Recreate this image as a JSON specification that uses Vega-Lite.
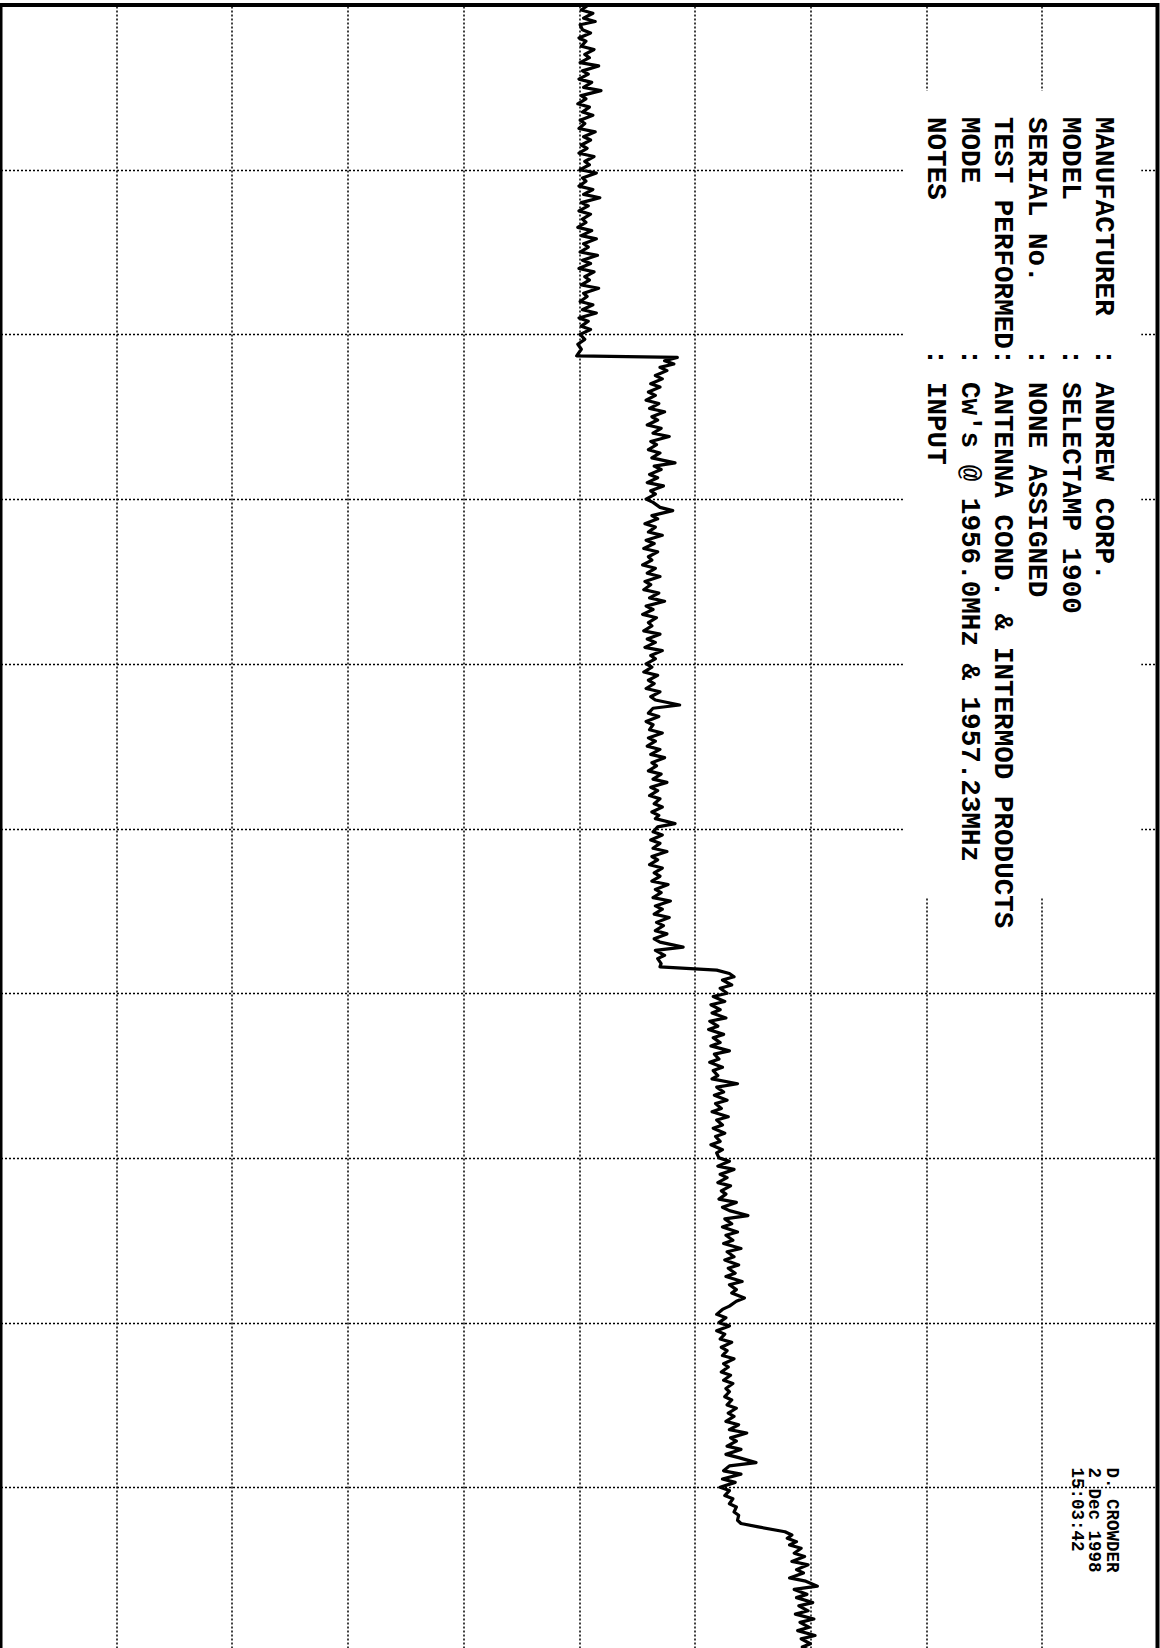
{
  "$schema": "https://vega.github.io/schema/vega-lite/v6.json",
  "width": 1157,
  "height": 1647,
  "autosize": {"type": "none"},
  "padding": {"left": 0.5, "top": 5, "right": 2.5, "bottom": 0},
  "background": "white",
  "config": {
    "view": {"stroke": "black", "strokeWidth": 4},
    "axis": {"grid": true, "gridColor": "black", "gridDash": [2, 2], "gridWidth": 1.5, "gridOpacity": 1, "labels": false, "ticks": false, "domain": false, "title": null}
  },
  "datasets": {
    "trace": [
      {"freq": 0.00, "level": 5.08}, {"freq": 0.03, "level": 5.02}, {"freq": 0.05, "level": 5.12}, {"freq": 0.08, "level": 5.04},
      {"freq": 0.10, "level": 5.14}, {"freq": 0.12, "level": 5.01}, {"freq": 0.15, "level": 5.03}, {"freq": 0.17, "level": 5.10},
      {"freq": 0.20, "level": 5.00}, {"freq": 0.22, "level": 5.06}, {"freq": 0.25, "level": 5.02}, {"freq": 0.27, "level": 5.13},
      {"freq": 0.30, "level": 5.05}, {"freq": 0.32, "level": 5.09}, {"freq": 0.35, "level": 5.01}, {"freq": 0.37, "level": 5.17},
      {"freq": 0.40, "level": 5.03}, {"freq": 0.42, "level": 5.08}, {"freq": 0.45, "level": 5.00}, {"freq": 0.47, "level": 5.11},
      {"freq": 0.50, "level": 5.04}, {"freq": 0.52, "level": 5.19}, {"freq": 0.55, "level": 5.02}, {"freq": 0.57, "level": 5.06},
      {"freq": 0.60, "level": 4.99}, {"freq": 0.62, "level": 5.09}, {"freq": 0.65, "level": 5.03}, {"freq": 0.67, "level": 5.12},
      {"freq": 0.70, "level": 5.01}, {"freq": 0.72, "level": 5.05}, {"freq": 0.75, "level": 5.00}, {"freq": 0.77, "level": 5.14},
      {"freq": 0.80, "level": 5.04}, {"freq": 0.82, "level": 5.10}, {"freq": 0.85, "level": 5.02}, {"freq": 0.87, "level": 5.07},
      {"freq": 0.90, "level": 5.00}, {"freq": 0.92, "level": 5.13}, {"freq": 0.95, "level": 5.05}, {"freq": 0.97, "level": 5.09},
      {"freq": 1.00, "level": 5.01}, {"freq": 1.02, "level": 5.15}, {"freq": 1.05, "level": 5.03}, {"freq": 1.07, "level": 5.06},
      {"freq": 1.10, "level": 5.00}, {"freq": 1.12, "level": 5.12}, {"freq": 1.15, "level": 5.04}, {"freq": 1.17, "level": 5.18},
      {"freq": 1.20, "level": 5.02}, {"freq": 1.22, "level": 5.08}, {"freq": 1.25, "level": 5.00}, {"freq": 1.27, "level": 5.10},
      {"freq": 1.30, "level": 5.03}, {"freq": 1.32, "level": 5.06}, {"freq": 1.35, "level": 4.99}, {"freq": 1.37, "level": 5.11},
      {"freq": 1.40, "level": 5.02}, {"freq": 1.42, "level": 5.15}, {"freq": 1.45, "level": 5.04}, {"freq": 1.47, "level": 5.08},
      {"freq": 1.50, "level": 5.01}, {"freq": 1.52, "level": 5.16}, {"freq": 1.55, "level": 5.03}, {"freq": 1.57, "level": 5.10},
      {"freq": 1.60, "level": 5.00}, {"freq": 1.62, "level": 5.13}, {"freq": 1.65, "level": 5.05}, {"freq": 1.67, "level": 5.09},
      {"freq": 1.70, "level": 5.02}, {"freq": 1.72, "level": 5.17}, {"freq": 1.75, "level": 5.04}, {"freq": 1.77, "level": 5.07},
      {"freq": 1.80, "level": 5.01}, {"freq": 1.82, "level": 5.12}, {"freq": 1.85, "level": 5.03}, {"freq": 1.87, "level": 5.15},
      {"freq": 1.90, "level": 5.00}, {"freq": 1.92, "level": 5.08}, {"freq": 1.95, "level": 5.02}, {"freq": 1.97, "level": 5.10},
      {"freq": 2.00, "level": 5.01}, {"freq": 2.03, "level": 5.05}, {"freq": 2.06, "level": 4.99}, {"freq": 2.09, "level": 5.02},
      {"freq": 2.12, "level": 4.99}, {"freq": 2.13, "level": 4.98},
      {"freq": 2.14, "level": 5.85}, {"freq": 2.16, "level": 5.74}, {"freq": 2.18, "level": 5.82}, {"freq": 2.20, "level": 5.70},
      {"freq": 2.22, "level": 5.76}, {"freq": 2.25, "level": 5.66}, {"freq": 2.27, "level": 5.72}, {"freq": 2.30, "level": 5.62},
      {"freq": 2.32, "level": 5.70}, {"freq": 2.35, "level": 5.60}, {"freq": 2.37, "level": 5.66}, {"freq": 2.40, "level": 5.58},
      {"freq": 2.42, "level": 5.69}, {"freq": 2.45, "level": 5.61}, {"freq": 2.47, "level": 5.74}, {"freq": 2.50, "level": 5.63},
      {"freq": 2.52, "level": 5.68}, {"freq": 2.55, "level": 5.59}, {"freq": 2.57, "level": 5.71}, {"freq": 2.60, "level": 5.64},
      {"freq": 2.62, "level": 5.78}, {"freq": 2.65, "level": 5.62}, {"freq": 2.67, "level": 5.67}, {"freq": 2.70, "level": 5.60},
      {"freq": 2.72, "level": 5.70}, {"freq": 2.75, "level": 5.63}, {"freq": 2.78, "level": 5.83}, {"freq": 2.80, "level": 5.65},
      {"freq": 2.82, "level": 5.71}, {"freq": 2.85, "level": 5.61}, {"freq": 2.87, "level": 5.68}, {"freq": 2.90, "level": 5.59},
      {"freq": 2.92, "level": 5.73}, {"freq": 2.95, "level": 5.62}, {"freq": 2.97, "level": 5.66}, {"freq": 3.00, "level": 5.58},
      {"freq": 3.02, "level": 5.64}, {"freq": 3.05, "level": 5.70}, {"freq": 3.07, "level": 5.81}, {"freq": 3.10, "level": 5.63},
      {"freq": 3.12, "level": 5.68}, {"freq": 3.15, "level": 5.57}, {"freq": 3.17, "level": 5.66}, {"freq": 3.20, "level": 5.60},
      {"freq": 3.22, "level": 5.72}, {"freq": 3.25, "level": 5.58}, {"freq": 3.27, "level": 5.65}, {"freq": 3.30, "level": 5.56},
      {"freq": 3.32, "level": 5.68}, {"freq": 3.35, "level": 5.60}, {"freq": 3.37, "level": 5.63}, {"freq": 3.40, "level": 5.55},
      {"freq": 3.42, "level": 5.66}, {"freq": 3.45, "level": 5.59}, {"freq": 3.47, "level": 5.70}, {"freq": 3.50, "level": 5.57},
      {"freq": 3.52, "level": 5.62}, {"freq": 3.55, "level": 5.56}, {"freq": 3.57, "level": 5.69}, {"freq": 3.60, "level": 5.61},
      {"freq": 3.62, "level": 5.74}, {"freq": 3.65, "level": 5.58}, {"freq": 3.67, "level": 5.64}, {"freq": 3.70, "level": 5.55},
      {"freq": 3.72, "level": 5.67}, {"freq": 3.75, "level": 5.60}, {"freq": 3.77, "level": 5.63}, {"freq": 3.80, "level": 5.56},
      {"freq": 3.82, "level": 5.70}, {"freq": 3.85, "level": 5.59}, {"freq": 3.87, "level": 5.66}, {"freq": 3.90, "level": 5.57},
      {"freq": 3.92, "level": 5.72}, {"freq": 3.95, "level": 5.62}, {"freq": 3.97, "level": 5.66}, {"freq": 4.00, "level": 5.58},
      {"freq": 4.02, "level": 5.63}, {"freq": 4.05, "level": 5.56}, {"freq": 4.07, "level": 5.68}, {"freq": 4.10, "level": 5.60},
      {"freq": 4.12, "level": 5.65}, {"freq": 4.15, "level": 5.58}, {"freq": 4.17, "level": 5.70}, {"freq": 4.20, "level": 5.62},
      {"freq": 4.22, "level": 5.66}, {"freq": 4.25, "level": 5.87}, {"freq": 4.27, "level": 5.64}, {"freq": 4.30, "level": 5.60},
      {"freq": 4.32, "level": 5.69}, {"freq": 4.35, "level": 5.58}, {"freq": 4.37, "level": 5.64}, {"freq": 4.40, "level": 5.61},
      {"freq": 4.42, "level": 5.72}, {"freq": 4.45, "level": 5.60}, {"freq": 4.47, "level": 5.66}, {"freq": 4.50, "level": 5.59},
      {"freq": 4.52, "level": 5.70}, {"freq": 4.55, "level": 5.62}, {"freq": 4.57, "level": 5.74}, {"freq": 4.60, "level": 5.63},
      {"freq": 4.62, "level": 5.67}, {"freq": 4.65, "level": 5.60}, {"freq": 4.67, "level": 5.71}, {"freq": 4.70, "level": 5.64},
      {"freq": 4.72, "level": 5.76}, {"freq": 4.75, "level": 5.62}, {"freq": 4.77, "level": 5.68}, {"freq": 4.80, "level": 5.61},
      {"freq": 4.82, "level": 5.70}, {"freq": 4.85, "level": 5.65}, {"freq": 4.87, "level": 5.72}, {"freq": 4.90, "level": 5.63},
      {"freq": 4.92, "level": 5.69}, {"freq": 4.94, "level": 5.66}, {"freq": 4.97, "level": 5.83}, {"freq": 4.99, "level": 5.68},
      {"freq": 5.02, "level": 5.64}, {"freq": 5.04, "level": 5.72}, {"freq": 5.07, "level": 5.62}, {"freq": 5.09, "level": 5.70},
      {"freq": 5.12, "level": 5.64}, {"freq": 5.14, "level": 5.76}, {"freq": 5.17, "level": 5.63}, {"freq": 5.19, "level": 5.68},
      {"freq": 5.22, "level": 5.61}, {"freq": 5.24, "level": 5.72}, {"freq": 5.27, "level": 5.65}, {"freq": 5.29, "level": 5.70},
      {"freq": 5.32, "level": 5.63}, {"freq": 5.34, "level": 5.77}, {"freq": 5.37, "level": 5.66}, {"freq": 5.39, "level": 5.71},
      {"freq": 5.42, "level": 5.64}, {"freq": 5.44, "level": 5.79}, {"freq": 5.47, "level": 5.66}, {"freq": 5.49, "level": 5.72},
      {"freq": 5.52, "level": 5.65}, {"freq": 5.54, "level": 5.78}, {"freq": 5.57, "level": 5.67}, {"freq": 5.59, "level": 5.73},
      {"freq": 5.62, "level": 5.66}, {"freq": 5.64, "level": 5.76}, {"freq": 5.67, "level": 5.65}, {"freq": 5.69, "level": 5.70},
      {"freq": 5.72, "level": 5.90}, {"freq": 5.74, "level": 5.66}, {"freq": 5.77, "level": 5.74}, {"freq": 5.79, "level": 5.68},
      {"freq": 5.82, "level": 5.71}, {"freq": 5.84, "level": 5.70},
      {"freq": 5.86, "level": 6.19}, {"freq": 5.88, "level": 6.30}, {"freq": 5.90, "level": 6.34}, {"freq": 5.92, "level": 6.24},
      {"freq": 5.95, "level": 6.32}, {"freq": 5.97, "level": 6.22}, {"freq": 6.00, "level": 6.28}, {"freq": 6.02, "level": 6.16},
      {"freq": 6.05, "level": 6.26}, {"freq": 6.07, "level": 6.14}, {"freq": 6.10, "level": 6.22}, {"freq": 6.12, "level": 6.15},
      {"freq": 6.15, "level": 6.27}, {"freq": 6.17, "level": 6.13}, {"freq": 6.20, "level": 6.20}, {"freq": 6.22, "level": 6.12},
      {"freq": 6.25, "level": 6.25}, {"freq": 6.27, "level": 6.16}, {"freq": 6.30, "level": 6.22}, {"freq": 6.32, "level": 6.14},
      {"freq": 6.35, "level": 6.30}, {"freq": 6.37, "level": 6.17}, {"freq": 6.40, "level": 6.21}, {"freq": 6.42, "level": 6.13},
      {"freq": 6.45, "level": 6.24}, {"freq": 6.47, "level": 6.16}, {"freq": 6.50, "level": 6.20}, {"freq": 6.52, "level": 6.15},
      {"freq": 6.55, "level": 6.37}, {"freq": 6.57, "level": 6.19}, {"freq": 6.60, "level": 6.25}, {"freq": 6.62, "level": 6.17},
      {"freq": 6.65, "level": 6.28}, {"freq": 6.67, "level": 6.18}, {"freq": 6.70, "level": 6.23}, {"freq": 6.72, "level": 6.15},
      {"freq": 6.75, "level": 6.29}, {"freq": 6.77, "level": 6.19}, {"freq": 6.80, "level": 6.24}, {"freq": 6.82, "level": 6.16},
      {"freq": 6.85, "level": 6.26}, {"freq": 6.87, "level": 6.18}, {"freq": 6.90, "level": 6.22}, {"freq": 6.92, "level": 6.14},
      {"freq": 6.95, "level": 6.24}, {"freq": 6.97, "level": 6.19}, {"freq": 7.00, "level": 6.21}, {"freq": 7.02, "level": 6.30},
      {"freq": 7.05, "level": 6.20}, {"freq": 7.07, "level": 6.34}, {"freq": 7.10, "level": 6.22}, {"freq": 7.12, "level": 6.28},
      {"freq": 7.15, "level": 6.20}, {"freq": 7.17, "level": 6.31}, {"freq": 7.20, "level": 6.23}, {"freq": 7.22, "level": 6.27},
      {"freq": 7.25, "level": 6.21}, {"freq": 7.27, "level": 6.36}, {"freq": 7.30, "level": 6.24}, {"freq": 7.32, "level": 6.30},
      {"freq": 7.35, "level": 6.46}, {"freq": 7.37, "level": 6.26}, {"freq": 7.40, "level": 6.32}, {"freq": 7.42, "level": 6.24},
      {"freq": 7.45, "level": 6.37}, {"freq": 7.47, "level": 6.27}, {"freq": 7.50, "level": 6.33}, {"freq": 7.52, "level": 6.25},
      {"freq": 7.55, "level": 6.40}, {"freq": 7.57, "level": 6.28}, {"freq": 7.60, "level": 6.34}, {"freq": 7.62, "level": 6.26},
      {"freq": 7.65, "level": 6.38}, {"freq": 7.67, "level": 6.29}, {"freq": 7.70, "level": 6.35}, {"freq": 7.72, "level": 6.27},
      {"freq": 7.75, "level": 6.41}, {"freq": 7.77, "level": 6.30}, {"freq": 7.80, "level": 6.36}, {"freq": 7.82, "level": 6.32},
      {"freq": 7.85, "level": 6.43}, {"freq": 7.87, "level": 6.36}, {"freq": 7.90, "level": 6.30}, {"freq": 7.92, "level": 6.24},
      {"freq": 7.95, "level": 6.19}, {"freq": 7.97, "level": 6.27}, {"freq": 8.00, "level": 6.21}, {"freq": 8.02, "level": 6.30},
      {"freq": 8.05, "level": 6.19}, {"freq": 8.07, "level": 6.26}, {"freq": 8.10, "level": 6.22}, {"freq": 8.12, "level": 6.32},
      {"freq": 8.15, "level": 6.23}, {"freq": 8.17, "level": 6.28}, {"freq": 8.20, "level": 6.24}, {"freq": 8.22, "level": 6.34},
      {"freq": 8.25, "level": 6.25}, {"freq": 8.27, "level": 6.29}, {"freq": 8.30, "level": 6.23}, {"freq": 8.32, "level": 6.31},
      {"freq": 8.35, "level": 6.25}, {"freq": 8.37, "level": 6.33}, {"freq": 8.40, "level": 6.27}, {"freq": 8.42, "level": 6.30},
      {"freq": 8.45, "level": 6.26}, {"freq": 8.47, "level": 6.32}, {"freq": 8.50, "level": 6.28}, {"freq": 8.52, "level": 6.36},
      {"freq": 8.55, "level": 6.29}, {"freq": 8.57, "level": 6.34}, {"freq": 8.60, "level": 6.27}, {"freq": 8.62, "level": 6.38},
      {"freq": 8.65, "level": 6.30}, {"freq": 8.67, "level": 6.45}, {"freq": 8.70, "level": 6.31}, {"freq": 8.72, "level": 6.36},
      {"freq": 8.75, "level": 6.28}, {"freq": 8.77, "level": 6.40}, {"freq": 8.80, "level": 6.27}, {"freq": 8.82, "level": 6.38},
      {"freq": 8.85, "level": 6.53}, {"freq": 8.87, "level": 6.30}, {"freq": 8.90, "level": 6.25}, {"freq": 8.92, "level": 6.40},
      {"freq": 8.95, "level": 6.24}, {"freq": 8.97, "level": 6.35}, {"freq": 9.00, "level": 6.22}, {"freq": 9.02, "level": 6.30},
      {"freq": 9.05, "level": 6.26}, {"freq": 9.07, "level": 6.33}, {"freq": 9.10, "level": 6.30}, {"freq": 9.12, "level": 6.36},
      {"freq": 9.15, "level": 6.34}, {"freq": 9.17, "level": 6.38}, {"freq": 9.20, "level": 6.37}, {"freq": 9.22, "level": 6.40},
      {"freq": 9.24, "level": 6.55}, {"freq": 9.27, "level": 6.78},
      {"freq": 9.29, "level": 6.84}, {"freq": 9.31, "level": 6.80}, {"freq": 9.33, "level": 6.88}, {"freq": 9.35, "level": 6.82},
      {"freq": 9.37, "level": 6.92}, {"freq": 9.40, "level": 6.86}, {"freq": 9.42, "level": 6.95}, {"freq": 9.45, "level": 6.84},
      {"freq": 9.47, "level": 6.98}, {"freq": 9.50, "level": 6.88}, {"freq": 9.52, "level": 6.94}, {"freq": 9.55, "level": 6.82},
      {"freq": 9.57, "level": 6.96}, {"freq": 9.60, "level": 7.06}, {"freq": 9.62, "level": 6.86}, {"freq": 9.65, "level": 6.97},
      {"freq": 9.67, "level": 6.88}, {"freq": 9.70, "level": 7.02}, {"freq": 9.72, "level": 6.90}, {"freq": 9.75, "level": 6.98},
      {"freq": 9.77, "level": 6.87}, {"freq": 9.80, "level": 7.03}, {"freq": 9.82, "level": 6.91}, {"freq": 9.85, "level": 6.99},
      {"freq": 9.87, "level": 6.89}, {"freq": 9.90, "level": 7.04}, {"freq": 9.92, "level": 6.92}, {"freq": 9.95, "level": 7.00},
      {"freq": 9.97, "level": 6.93}, {"freq": 10.00, "level": 7.02}
    ],
    "info": [
      {"t": "MANUFACTURER\u00a0\u00a0: ANDREW CORP.\nMODEL\u00a0\u00a0\u00a0\u00a0\u00a0\u00a0\u00a0\u00a0\u00a0: SELECTAMP 1900\nSERIAL No.\u00a0\u00a0\u00a0\u00a0: NONE ASSIGNED\nTEST PERFORMED: ANTENNA COND. & INTERMOD PRODUCTS\nMODE\u00a0\u00a0\u00a0\u00a0\u00a0\u00a0\u00a0\u00a0\u00a0\u00a0: Cw's @ 1956.0MHz & 1957.23MHz\nNOTES\u00a0\u00a0\u00a0\u00a0\u00a0\u00a0\u00a0\u00a0\u00a0: INPUT"}
    ],
    "stamp": [
      {"t": "D. CROWDER\n\u00a02 Dec 1998\n15:03:42"}
    ]
  },
  "layer": [
    {
      "data": {"name": "trace"},
      "mark": {"type": "line", "color": "black", "strokeWidth": 3.2, "strokeJoin": "round"},
      "encoding": {
        "x": {"field": "level", "type": "quantitative", "scale": {"domain": [0, 10], "nice": false, "zero": false}, "axis": {"values": [1, 2, 3, 4, 5, 6, 7, 8, 9]}},
        "y": {"field": "freq", "type": "quantitative", "scale": {"domain": [0, 10], "nice": false, "reverse": true}, "axis": {"values": [1, 2, 3, 4, 5, 6, 7, 8, 9]}},
        "order": {"field": "freq", "type": "quantitative"}
      }
    },
    {
      "data": {"values": [{}]},
      "mark": {"type": "rect", "fill": "white", "stroke": null},
      "encoding": {
        "x": {"datum": 7.80, "type": "quantitative"},
        "x2": {"datum": 9.86},
        "y": {"datum": 0.52, "type": "quantitative"},
        "y2": {"datum": 5.42}
      }
    },
    {
      "data": {"name": "info"},
      "mark": {"type": "text", "angle": 90, "align": "left", "baseline": "alphabetic", "font": "Liberation Mono", "fontWeight": "bold", "fontSize": 27.6, "lineHeight": 33.6, "lineBreak": "\n", "color": "black"},
      "encoding": {
        "x": {"datum": 9.47, "type": "quantitative"},
        "y": {"datum": 0.68, "type": "quantitative"},
        "text": {"field": "t"}
      }
    },
    {
      "data": {"name": "stamp"},
      "mark": {"type": "text", "angle": 90, "align": "left", "baseline": "alphabetic", "font": "Liberation Mono", "fontWeight": "bold", "fontSize": 17.5, "lineHeight": 17.4, "lineBreak": "\n", "color": "black"},
      "encoding": {
        "x": {"datum": 9.56, "type": "quantitative"},
        "y": {"datum": 8.88, "type": "quantitative"},
        "text": {"field": "t"}
      }
    }
  ]
}
